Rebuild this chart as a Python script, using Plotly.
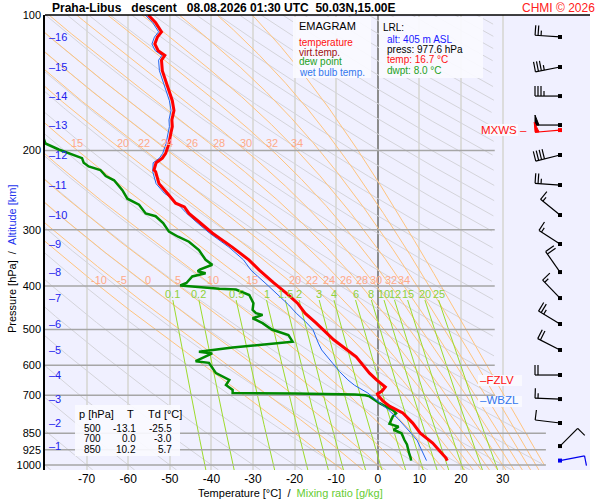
import numpy as np
import plotly.graph_objects as go

FONT = "Liberation Sans, Arial, sans-serif"

# === sounding data ===
temp_p = [977.6, 965, 940, 894, 850, 807, 766, 741, 720, 706, 700, 695, 685, 671, 660, 647,
          625, 575, 527, 500, 484, 460, 437, 415, 394, 369, 350, 328, 305, 288, 276, 267,
          262, 249, 237, 223, 221, 213, 208, 203, 193, 184, 177, 171, 163, 155, 147, 140,
          133, 126, 123, 120, 116, 112, 109, 104, 100]
temp_t = [16.7, 16.4, 15.3, 13.2, 10.2, 8.4, 6.0, 2.9, 1.2, 0.3, 0.0, -0.1, 1.0, 1.8, 0.8, -0.3,
          -2.0, -5.2, -10.6, -13.1, -14.8, -17.5, -19.3, -22.0, -25.0, -28.5, -31.0, -35.0, -39.8, -43.0, -45.4, -46.5,
          -48.6, -50.6, -52.6, -53.4, -53.8, -53.3, -51.8, -51.0, -50.2, -49.8, -49.4, -49.5, -49.0, -49.4, -50.2, -51.0,
          -51.8, -52.0, -51.2, -52.8, -53.6, -53.0, -52.0, -53.4, -55.2]

dew_p = [977.6, 965, 940, 900, 880, 850, 835, 822, 810, 780, 767, 755, 729, 704, 700, 697,
         694, 692, 681, 664, 647, 625, 593, 588, 565, 560, 548, 536, 532, 514, 500, 484,
         472, 464, 460, 452, 437, 419, 407.5, 406, 403, 399, 394, 381, 375, 371, 368, 359,
         350, 333, 319, 311, 303, 290, 280, 276, 264, 256, 245, 233, 228, 221, 217, 213,
         208, 204, 199, 193, 185, 175]
dew_t = [8.0, 7.9, 7.5, 7.0, 6.4, 5.7, 3.8, 5.0, 2.8, 3.6, 4.4, 3.6, 0.4, -2.0, -3.0, -5.5,
         -20.0, -34.9, -34.9, -36.5, -35.7, -38.9, -40.6, -43.8, -39.8, -43.0, -34.9, -22.9, -20.5, -21.5, -25.5, -27.7,
         -30.1, -27.7, -29.3, -30.1, -29.9, -30.9, -34.1, -38.1, -42.5, -47.5, -46.0, -44.6, -41.4, -43.3, -42.8, -39.8,
         -41.4, -43.0, -45.4, -48.0, -50.2, -51.6, -53.4, -55.8, -57.4, -60.2, -61.4, -63.4, -65.4, -66.7, -69.5, -70.7,
         -71.1, -73.5, -76.7, -79.9, -80.6, -84.0]

wet_p = [977.6, 940, 900, 880, 850, 822, 790, 755, 730, 717, 700, 692, 680, 665, 647, 620,
         595, 575, 555, 536, 520, 500, 480, 460, 441, 420, 400, 369, 350, 328, 305, 288,
         275, 264, 255, 249, 237, 223, 213, 208, 203, 193, 184, 177, 171, 163, 155, 147,
         140, 133, 126, 123, 120, 116, 112, 109, 104, 100]
wet_t = [11.7, 10.8, 9.9, 9.4, 8.0, 6.6, 4.9, 2.6, 0.6, -0.4, -1.7, -2.4, -3.8, -5.6, -7.2, -9.2,
         -10.8, -12.2, -13.5, -14.3, -14.8, -15.6, -17.4, -19.6, -21.4, -23.8, -26.3, -30.5, -32.3, -35.8, -40.5, -43.7,
         -46.1, -47.9, -49.6, -51.3, -53.3, -54.1, -54.0, -52.5, -51.7, -50.9, -50.5, -50.1, -50.2, -49.7, -50.1, -50.9,
         -51.7, -52.5, -52.7, -51.9, -53.5, -54.3, -53.7, -52.7, -54.1, -55.9]

# lowest reported level
lrl_alt = 405
lrl_press = 977.6
lrl_temp = 16.7
lrl_dwpt = 8.0

# standard levels table
table_p = [500, 700, 850]
table_t = [-13.1, 0.0, 10.2]
table_td = [-25.5, -3.0, 5.7]

# altitude marks (km) and their pressure
alt_km = list(range(1, 17))
alt_p = [907.6, 806.7, 713.6, 631.0, 555.1, 486.0, 425.6, 372.6, 322.8, 278.3,
         238.7, 204.7, 175.6, 151.4, 130.5, 111.9]

# wind at each km, direction in degrees, speed in knots
wind_dir = [45, 277, 272, 270, 297, 301, 316, 325, 303, 309, 274, 256, 270, 270, 259, 274]
wind_kt = [10, 10, 15, 20, 20, 25, 15, 20, 15, 15, 25, 40, 50, 35, 35, 25]
sfc_dir, sfc_kt = 79, 10
mxws_p, mxws_dir, mxws_kt = 180.2, 265, 50

fzlv_p = 647
wbzl_p = 717

# diagram reference lines
dry_theta = list(range(-80, 320, 10))
moist_thw = [-10, -5, 0, 5, 10, 15, 20, 22, 24, 26, 28, 30, 32, 34, 36, 38, 40]
moist_labels = [-10, -5, 0, 5, 10, 15, 20, 22, 24, 26, 28, 30, 32, 34]
mix_r = [0.1, 0.2, 0.5, 1, 1.5, 2, 3, 4, 6, 8, 10, 12, 15, 20, 25]
isobars = [200, 300, 400, 500, 600, 700, 850, 925, 1000]
temp_ticks = list(range(-70, 31, 10))

# === axes geometry ===
T_LO, T_HI = -80, 51
P_TOP, P_BOT = 100, 1025.9
PX_PER_DEG = 545 / (T_HI - T_LO)
BARB_T = T_LO + (560 - 45) / PX_PER_DEG


def t_limit(p):
    f = (np.log10(p) - np.log10(600)) / (np.log10(1000) - np.log10(600))
    return 28 + 12 * np.clip(f, 0, 1)


def join(lines):
    xs, ys = [], []
    for x, y in lines:
        xs += list(x) + [None]
        ys += list(y) + [None]
    return xs, ys


# --- thermodynamics for the background lines ---
RD, CP, LV, EPS = 287.04, 1005.7, 2.501e6, 0.622


def sat_mix(tk, p):
    tc = tk - 273.15
    es = 6.112 * np.exp(17.67 * tc / (tc + 243.5))
    return EPS * es / (p - es)


def moist_slope(tk, p):
    rs = sat_mix(tk, p)
    return (RD * tk + LV * rs) / (p * (CP + LV ** 2 * rs * EPS / (RD * tk ** 2)))


def integrate(t0, ps):
    t = np.array(t0, float) + 273.15
    out = [t.copy()]
    for i in range(1, len(ps)):
        p0, dp = ps[i - 1], ps[i] - ps[i - 1]
        k1 = moist_slope(t, p0)
        k2 = moist_slope(t + 0.5 * dp * k1, p0 + 0.5 * dp)
        k3 = moist_slope(t + 0.5 * dp * k2, p0 + 0.5 * dp)
        k4 = moist_slope(t + dp * k3, p0 + dp)
        t = t + dp * (k1 + 2 * k2 + 2 * k3 + k4) / 6
        out.append(t.copy())
    return np.array(out) - 273.15


p_up = np.linspace(1000, 100, 901)
p_dn = np.linspace(1000, P_BOT, 27)
moist_up = integrate(moist_thw, p_up)
moist_dn = integrate(moist_thw, p_dn)
moist_p = np.concatenate([p_dn[::-1], p_up[1:]])
moist_t = np.vstack([moist_dn[::-1], moist_up[1:]])

fig = go.Figure()

# dry adiabats
pg = np.logspace(np.log10(P_BOT), 2, 300)
lines = []
for th in dry_theta:
    t = (th + 273.15) * (pg / 1000) ** 0.2857 - 273.15
    t = np.where(t > t_limit(pg), np.nan, t)
    lines.append((t, pg))
xs, ys = join(lines)
fig.add_trace(go.Scatter(x=xs, y=ys, mode="lines", line=dict(color="#d4d4da", width=1), hoverinfo="skip"))

# moist adiabats
lines = []
for j in range(len(moist_thw)):
    t = moist_t[:, j]
    t = np.where(t > t_limit(moist_p), np.nan, t)
    lines.append((t, moist_p))
xs, ys = join(lines)
fig.add_trace(go.Scatter(x=xs, y=ys, mode="lines", line=dict(color="#ffc47e", width=1), hoverinfo="skip"))

# mixing ratio lines
pm = np.linspace(430, P_BOT, 60)
lines = []
for r in mix_r:
    e = r * pm / (622 + r)
    lg = np.log(e / 6.112)
    lines.append((243.5 * lg / (17.67 - lg), pm))
xs, ys = join(lines)
fig.add_trace(go.Scatter(x=xs, y=ys, mode="lines", line=dict(color="#9ddb2c", width=1), hoverinfo="skip"))

# isobars
lines = [([T_LO, 28.1 if p <= 700 else 40.4], [p, p]) for p in isobars]
xs, ys = join(lines)
fig.add_trace(go.Scatter(x=xs, y=ys, mode="lines", line=dict(color="#a6a6a6", width=1.5), hoverinfo="skip"))

# profiles
fig.add_trace(go.Scatter(x=dew_t, y=dew_p, mode="lines", line=dict(color="#008a00", width=2.5)))
fig.add_trace(go.Scatter(x=wet_t, y=wet_p, mode="lines", line=dict(color="#2266ee", width=1)))
fig.add_trace(go.Scatter(x=temp_t, y=temp_p, mode="lines", line=dict(color="#ff0000", width=3)))


# --- wind barbs ---
def barb(p0, direction, speed, color):
    d = np.radians(direction)
    ux, uy = np.sin(d), np.cos(d)
    fx, fy = uy, -ux

    def pt(dx, dy):
        return BARB_T + dx / PX_PER_DEG, p0 * 10 ** (-dy / 450)

    segs, tris = [], []
    L = 25
    segs.append([pt(0, 0), pt(L * ux, L * uy)])
    pos = L
    n50, rest = divmod(speed, 50)
    n10, rest = divmod(rest, 10)
    half = rest >= 5
    for _ in range(n50):
        tris.append([pt(pos * ux, pos * uy), pt(pos * ux + 10 * fx, pos * uy + 10 * fy),
                     pt((pos - 4) * ux, (pos - 4) * uy), pt(pos * ux, pos * uy)])
        pos -= 5
    for _ in range(n10):
        segs.append([pt(pos * ux, pos * uy), pt(pos * ux + 10 * fx, pos * uy + 10 * fy)])
        pos -= 3
    if half:
        if pos == L:
            pos -= 3
        segs.append([pt(pos * ux, pos * uy), pt(pos * ux + 5 * fx, pos * uy + 5 * fy)])
    lx, ly = join([([a[0] for a in s], [a[1] for a in s]) for s in segs])
    fig.add_trace(go.Scatter(x=lx, y=ly, mode="lines", line=dict(color=color, width=1.2), hoverinfo="skip"))
    if tris:
        tx, ty = join([([a[0] for a in s], [a[1] for a in s]) for s in tris])
        fig.add_trace(go.Scatter(x=tx, y=ty, mode="lines", fill="toself", fillcolor=color,
                                 line=dict(color=color, width=1), hoverinfo="skip"))
    fig.add_trace(go.Scatter(x=[BARB_T], y=[p0], mode="markers",
                             marker=dict(symbol="square", size=4, color=color), hoverinfo="skip"))


for p, dd, ss in zip(alt_p, wind_dir, wind_kt):
    barb(p, dd, ss, "black")
barb(mxws_p, mxws_dir, mxws_kt, "#ff0000")
barb(lrl_press, sfc_dir, sfc_kt, "#0000ee")

# --- annotations ---
ann = []


def px_ann(x, y, text, color="black", size=10, xanchor="left", yanchor="middle", **kw):
    ann.append(dict(x=(x - 45) / 545, y=(470 - y) / 455, xref="paper", yref="paper", text=text,
                    showarrow=False, xanchor=xanchor, yanchor=yanchor,
                    font=dict(family=FONT, size=size, color=color), **kw))


def data_ann(t, p, text, color, size):
    ann.append(dict(x=t, y=np.log10(p), xref="x", yref="y", text=text, showarrow=False,
                    xanchor="center", yanchor="middle", font=dict(family=FONT, size=size, color=color)))


# moist adiabat labels at 400 and 200 hPa
for th in moist_labels:
    j = moist_thw.index(th)
    for lev, lab_p in [(400, 388), (200, 192.6)]:
        t = float(np.interp(np.log(lev), np.log(moist_p[::-1]), moist_t[::-1, j]))
        if T_LO + 2 < t < 28:
            data_ann(t, lab_p, str(th), "#ffaa88", 11)

# mixing ratio labels
for r in mix_r:
    e = r * 430 / (622 + r)
    lg = np.log(e / 6.112)
    data_ann(243.5 * lg / (17.67 - lg), 417, f"{r:g}", "#8fd13a", 11)

# altitude marks
for km, p in zip(alt_km, alt_p):
    ann.append(dict(x=0.003, y=np.log10(p), xref="paper", yref="y", text=f"–{km}", showarrow=False,
                    xanchor="left", yanchor="middle", font=dict(family=FONT, size=11, color="#2222ee")))

# title
px_ann(50, 8, "<b>Praha-Libus&nbsp;&nbsp; descent&nbsp;&nbsp; 08.08.2026 01:30 UTC&nbsp; 50.03N,15.00E</b>",
       size=12)
px_ann(597, 8, "CHMI © 2026", color="#ff2020", size=12, xanchor="right")

# legend box
px_ann(297, 26, "EMAGRAM", size=11)
legend_items = [("temperature", "#ff1010"), ("virt.temp.", "#a01010"), ("dew point", "#22a022"),
                ("wet bulb temp.", "#3377ee")]
for i, (txt, col) in enumerate(legend_items):
    px_ann(297, 42 + 10 * i, txt, color=col)

# LRL box
px_ann(381, 27, "LRL:", size=10)
lrl_items = [(f"alt: {lrl_alt} m ASL", "#1a1aff"), (f"press: {lrl_press} hPa", "black"),
             (f"temp: {lrl_temp} °C", "#ff1010"), (f"dwpt: {lrl_dwpt} °C", "#22a022")]
for i, (txt, col) in enumerate(lrl_items):
    px_ann(385, 39 + 10.5 * i, txt, color=col)

# level table
px_ann(77, 414, "p [hPa]", size=11)
px_ann(125, 414, "T", size=11)
px_ann(146, 414, "Td [°C]", size=11)
for i in range(len(table_p)):
    y = 428 + 10.5 * i
    px_ann(103, y, str(table_p[i]), xanchor="right", size=10)
    px_ann(138, y, f"{table_t[i]:.1f}", xanchor="right", size=10)
    px_ann(174, y, f"{table_td[i]:.1f}", xanchor="right", size=10)

# freezing / wet bulb zero levels, max wind
ann.append(dict(x=(478 - 45) / 545, y=np.log10(fzlv_p), xref="paper", yref="y", text="–FZLV", showarrow=False,
                xanchor="left", yanchor="middle", font=dict(family=FONT, size=11.5, color="#ff1010")))
ann.append(dict(x=(478 - 45) / 545, y=np.log10(wbzl_p), xref="paper", yref="y", text="–WBZL", showarrow=False,
                xanchor="left", yanchor="middle", font=dict(family=FONT, size=11.5, color="#3377ee")))
ann.append(dict(x=(529 - 45) / 545, y=np.log10(mxws_p), xref="paper", yref="y", text="MXWS –", showarrow=False,
                xanchor="right", yanchor="middle", font=dict(family=FONT, size=11.5, color="#ff1010")))

# axis titles
px_ann(196, 493, "Temperature [°C]&nbsp; / &nbsp;<span style='color:#66cc33'>Mixing ratio [g/kg]</span>", size=11)
px_ann(12, 259, "Pressure [hPa]&nbsp; / &nbsp;<span style='color:#2233ee'>Altitude [km]</span>", size=11,
       xanchor="center", textangle=-90)


def box(x0, y0, x1, y1):
    return dict(type="rect", xref="paper", yref="paper", x0=(x0 - 45) / 545, x1=(x1 - 45) / 545,
                y0=(470 - y0) / 455, y1=(470 - y1) / 455, fillcolor="rgba(250,250,255,0.92)", line=dict(width=0))


shapes = [
    box(293, 17, 371, 78),
    box(379, 17, 483, 78),
    box(75, 405, 180, 456),
    box(478, 375, 522, 386),
    box(478, 396, 522, 407),
    box(486, 124, 518, 136),
    dict(type="line", xref="paper", yref="paper", x0=0, x1=1, y0=1, y1=1, line=dict(color="black", width=1.5)),
]

fig.update_layout(
    width=600, height=500,
    margin=dict(l=45, r=10, t=15, b=30),
    paper_bgcolor="white",
    plot_bgcolor="#f0f0ff",
    showlegend=False,
    font=dict(family=FONT, size=12, color="black"),
    annotations=ann,
    shapes=shapes,
    xaxis=dict(range=[T_LO, T_HI], tickvals=temp_ticks, ticktext=[str(v) for v in temp_ticks],
               showgrid=True, gridcolor="#dcdcdc", gridwidth=1.5, zeroline=True,
               zerolinecolor="#8c8c8c", zerolinewidth=1.5, showline=False, ticks="",
               tickfont=dict(size=12)),
    yaxis=dict(type="log", range=[np.log10(P_BOT), np.log10(P_TOP)],
               tickvals=[100] + isobars, ticktext=[str(v) for v in [100] + isobars],
               showgrid=False, zeroline=False, showline=True, linecolor="black", linewidth=1.5,
               ticks="", tickfont=dict(size=11)),
)

# the page's default body margin would push the figure 8px off; drop it
fig.write_html("out.html", config={"displayModeBar": False},
               post_script="document.body.style.margin='0px';")
